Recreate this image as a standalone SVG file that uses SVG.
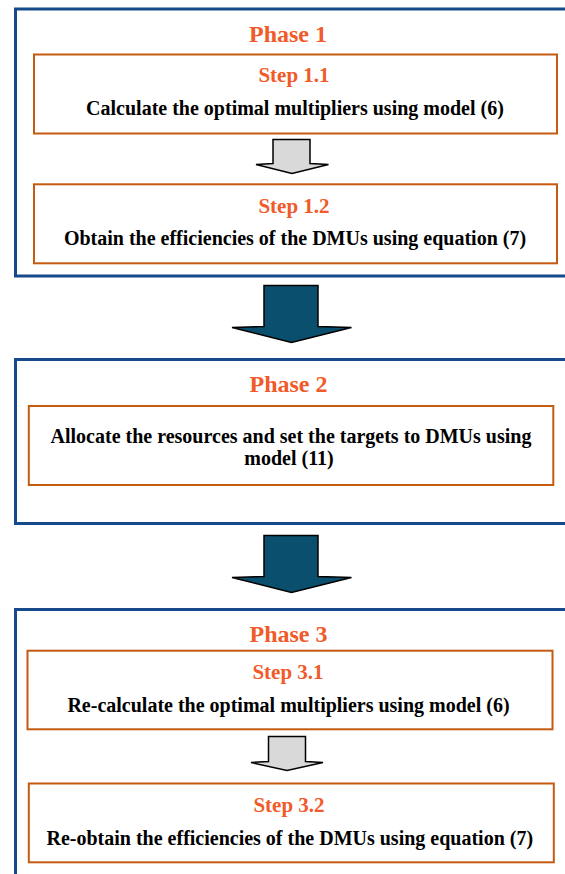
<svg xmlns="http://www.w3.org/2000/svg" width="565" height="874" viewBox="0 0 565 874">
<style>
.phase{fill:#fff;stroke:#174a8b;stroke-width:3}
.step{fill:#fff;stroke:#c55a11;stroke-width:2}
text{font-family:"Liberation Serif","Times New Roman",serif;font-weight:bold;text-anchor:middle}
.title{fill:#f15a29;font-size:24px}
.stitle{fill:#f15a29;font-size:21px}
.body{fill:#000;font-size:20px}
.big{fill:#0b4f6e;stroke:#000;stroke-width:1.5;stroke-linejoin:miter}
.small{fill:#d9d9d9;stroke:#000;stroke-width:1.5}
</style>
<rect width="565" height="874" fill="#fff"/>
<g id="phase1">
<rect class="phase" x="15.5" y="9" width="580" height="267"/>
<text class="title" x="288" y="42">Phase 1</text>
</g>
<g id="step1_1">
<rect class="step" x="34" y="54.5" width="523" height="79"/>
<text class="stitle" x="294" y="82">Step 1.1</text>
<text class="body" x="295" y="115">Calculate the optimal multipliers using model (6)</text>
</g>
<g id="step1_2">
<rect class="step" x="34" y="184.3" width="523" height="79"/>
<text class="stitle" x="294" y="213">Step 1.2</text>
<text class="body" x="295" y="245">Obtain the efficiencies of the DMUs using equation (7)</text>
</g>
<g id="phase2">
<rect class="phase" x="15.5" y="359.5" width="580" height="164"/>
<text class="title" x="288.5" y="392">Phase 2</text>
</g>
<g id="step2">
<rect class="step" x="28.8" y="406" width="524.5" height="79"/>
<text class="body" x="291" y="443">Allocate the resources and set the targets to DMUs using</text>
<text class="body" x="289" y="465">model (11)</text>
</g>
<g id="phase3">
<rect class="phase" x="15.5" y="609.5" width="580" height="280"/>
<text class="title" x="288.5" y="642">Phase 3</text>
</g>
<g id="step3_1">
<rect class="step" x="27.5" y="650.7" width="525" height="78.6"/>
<text class="stitle" x="288" y="679">Step 3.1</text>
<text class="body" x="288.5" y="712">Re-calculate the optimal multipliers using model (6)</text>
</g>
<g id="step3_2">
<rect class="step" x="28.8" y="783.5" width="525" height="78.8"/>
<text class="stitle" x="289" y="812">Step 3.2</text>
<text class="body" x="289.8" y="845">Re-obtain the efficiencies of the DMUs using equation (7)</text>
</g>
<g id="connectors">
<polygon class="small" points="273,139.5 310,139.5 310,163.5 328.5,164.5 292,173.5 256,164.5 273,163.5"/>
<polygon class="big" points="264,285.5 318,285.5 318,326.5 351.5,327.5 291.5,342.5 232,327.5 264,326.5"/>
<polygon class="big" points="264,535.5 318,535.5 318,576.5 351.5,577.5 291.5,592.5 232,577.5 264,576.5"/>
<polygon class="small" points="268.5,736.5 305.5,736.5 305.5,761.5 323,762.5 287,770.5 251,762.5 268.5,761.5"/>
</g>
</svg>
